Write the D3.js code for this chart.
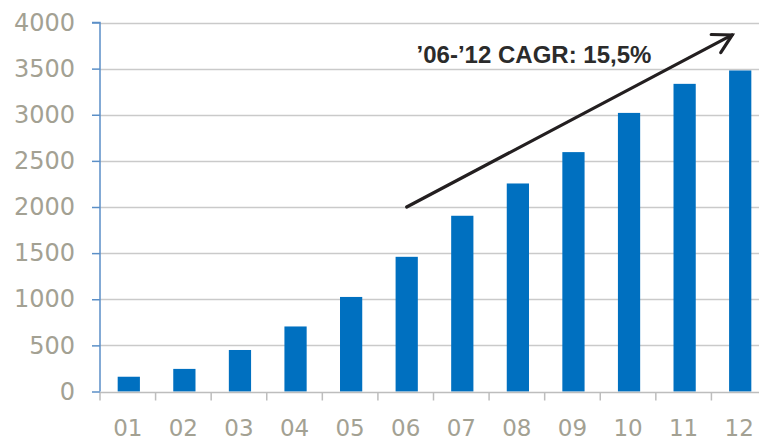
<!DOCTYPE html>
<html>
<head>
<meta charset="utf-8">
<script src="https://cdn.jsdelivr.net/npm/d3@7"></script>
<style>
  html, body { margin: 0; padding: 0; background: #fff; }
  svg { display: block; }
</style>
</head>
<body>
<svg id="chart" width="759" height="439"></svg>
<script>
// ---- data ----
const categories = ["01","02","03","04","05","06","07","08","09","10","11","12"];
const values = [160, 245, 450, 705, 1025, 1460, 1905, 2255, 2595, 3020, 3335, 3480];
const yTicks = [0, 500, 1000, 1500, 2000, 2500, 3000, 3500, 4000];
const annotationText = "\u201906-\u201912 CAGR: 15,5%";
const arrowFrom = ["06", 2000];
const arrowTo = ["12", 3865];
const textAt = ["06", 3560];

// ---- layout ----
const svg = d3.select("#chart");
const plotLeft = 100, plotRight = 767, plotTop = 22.5, plotBottom = 391.5;

const x = d3.scaleBand().domain(categories).range([plotLeft, plotRight])
  .paddingInner(0.6).paddingOuter(0.3);
const y = d3.scaleLinear().domain([0, 4000]).range([plotBottom, plotTop]);

// gridlines
svg.append("g").selectAll("line").data(yTicks.filter(d => d > 0)).join("line")
  .attr("x1", plotLeft).attr("x2", plotRight)
  .attr("y1", d => Math.round(y(d)) + 0.5).attr("y2", d => Math.round(y(d)) + 0.5)
  .attr("stroke", "#cacaca").attr("stroke-width", 1.5);

// bars
svg.append("g").selectAll("rect").data(values).join("rect")
  .attr("x", (d, i) => x(categories[i]) + 1)
  .attr("width", x.bandwidth())
  .attr("y", d => y(d))
  .attr("height", d => y(0) - y(d))
  .attr("fill", "#0070c0");

// x axis
const xAxisScale = d3.scalePoint().domain(d3.range(categories.length + 1)).range([plotLeft, plotRight]);
const gx = svg.append("g").attr("transform", `translate(0,${Math.round(y(0)) + 0.5})`);
gx.append("line").attr("x1", plotLeft).attr("x2", plotRight).attr("stroke", "#bdbdbd").attr("stroke-width", 1.5);
gx.selectAll("line.tk").data(d3.range(categories.length + 1)).join("line")
  .attr("class", "tk")
  .attr("x1", d => xAxisScale(d)).attr("x2", d => xAxisScale(d))
  .attr("y1", 0).attr("y2", 8)
  .attr("stroke", "#bdbdbd").attr("stroke-width", 1.5);
gx.selectAll("text").data(categories).join("text")
  .attr("x", d => x(d) + x.bandwidth() / 2)
  .attr("y", 27.5).attr("dy", "0.71em")
  .attr("text-anchor", "middle")
  .attr("font-family", "DejaVu Sans, Verdana, sans-serif")
  .attr("font-size", 23)
  .attr("fill", "#a3a193")
  .text(d => d);

// y axis
const gy = svg.append("g").attr("transform", `translate(${plotLeft},0)`);
gy.call(d3.axisLeft(y).tickValues(yTicks).tickSize(8).tickPadding(17).tickFormat(d3.format("d")));
gy.select(".domain").attr("stroke", "#5b8fc7").attr("stroke-width", 1.5).attr("d", `M-8,${plotTop}H0V${plotBottom}`);
gy.selectAll(".tick line").attr("stroke", "#5b8fc7").attr("stroke-width", 1.5);
gy.selectAll(".tick text")
  .attr("font-family", "DejaVu Sans, Verdana, sans-serif")
  .attr("font-size", 24)
  .attr("fill", "#a3a193");

// arrow annotation
const ax1 = x(arrowFrom[0]) + x.bandwidth() / 2 + 1, ay1 = y(arrowFrom[1]);
const ax2 = x(arrowTo[0]) + x.bandwidth() / 2 - 7, ay2 = y(arrowTo[1]);
const ang = Math.atan2(ay2 - ay1, ax2 - ax1);
const headLen = 21, spread = Math.PI / 6.2;
const g = svg.append("g").attr("stroke", "#231f20").attr("stroke-width", 3.2)
  .attr("stroke-linecap", "round").attr("fill", "none");
g.append("line").attr("x1", ax1).attr("y1", ay1).attr("x2", ax2).attr("y2", ay2);
g.append("path").attr("stroke-linejoin", "miter")
  .attr("d", `M${ax2 - headLen * Math.cos(ang - spread)},${ay2 - headLen * Math.sin(ang - spread)}` +
             `L${ax2},${ay2}` +
             `L${ax2 - headLen * Math.cos(ang + spread)},${ay2 - headLen * Math.sin(ang + spread)}`);

svg.append("text")
  .attr("x", x(textAt[0]) + 22)
  .attr("y", y(textAt[1]))
  .attr("font-family", "Liberation Sans, Arial, sans-serif")
  .attr("font-weight", "bold")
  .attr("font-size", 24)
  .attr("fill", "#2b2b2b")
  .text(annotationText);
</script>
</body>
</html>
